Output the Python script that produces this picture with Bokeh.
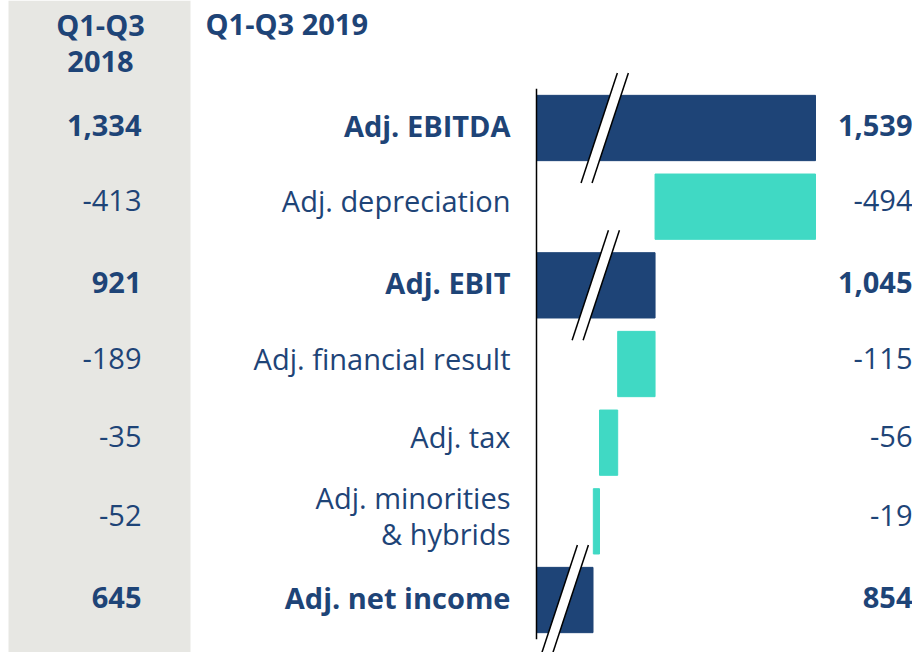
from bokeh.plotting import figure
from bokeh.models import Range1d, BoxAnnotation, ColumnDataSource
from bokeh.core.properties import value
from bokeh.embed import file_html
from bokeh.resources import INLINE

# ---- data ----
categories = ["Adj. EBITDA", "Adj. depreciation", "Adj. EBIT", "Adj. financial result",
              "Adj. tax", "Adj. minorities\n& hybrids", "Adj. net income"]
is_total = [True, False, True, False, False, False, True]
values_2019 = [1539, -494, 1045, -115, -56, -19, 854]
values_2018 = [1334, -413, 921, -189, -35, -52, 645]
labels_2019 = ["1,539", "-494", "1,045", "-115", "-56", "-19", "854"]
labels_2018 = ["1,334", "-413", "921", "-189", "-35", "-52", "645"]
header_2018 = "Q1-Q3\n2018"
header_2019 = "Q1-Q3 2019"
axis_break = 680  # value where the broken axis starts

# ---- styles ----
NAVY = "#1e4477"
TEAL = "#40d9c4"
GRAY = "#e7e7e3"
FONT = value("Open Sans")
FS = "29px"

W, H = 912, 652
S = 279 / (1539 - axis_break)  # px per unit
ROWH = 78.67

def px2x(px):
    return axis_break + (px - 536) / S

def py2y(py):
    return (py - 127.5) / ROWH

p = figure(width=W, height=H, output_backend="svg", toolbar_location=None,
           x_range=Range1d(px2x(0), px2x(W)), y_range=Range1d(py2y(H), py2y(0)),
           min_border=0, outline_line_color=None)
p.axis.visible = False
p.grid.visible = False
p.background_fill_color = "white"
p.border_fill_color = "white"

# gray column for 2018
p.add_layout(BoxAnnotation(left=px2x(8), right=px2x(190), bottom=py2y(655),
                           fill_color=GRAY, fill_alpha=1.0,
                           line_color=None, level="underlay"))

# waterfall bars
lefts, rights, colors, ys = [], [], [], []
running = None
for i, (v, tot) in enumerate(zip(values_2019, is_total)):
    if tot:
        lefts.append(axis_break); rights.append(v); colors.append(NAVY)
        running = v
    else:
        lefts.append(running + v); rights.append(running); colors.append(TEAL)
        running = running + v
    ys.append(i)
src = ColumnDataSource(dict(y=ys, left=lefts, right=rights, color=colors))
p.hbar(y="y", left="left", right="right", height=0.83, color="color", source=src)

# axis break marks on total bars
dx_per_py = -0.33
half_h = 55 / ROWH
half_w = 5.5 / S
for i, (v, tot) in enumerate(zip(values_2019, is_total)):
    if not tot:
        continue
    cx = axis_break + min(210, (v - axis_break) * 0.5)
    off = (55 * dx_per_py) / S
    xt, xb = cx - off, cx + off
    yt, yb = i - half_h, i + half_h
    p.patch([xt - half_w, xt + half_w, xb + half_w, xb - half_w],
            [yt, yt, yb, yb], fill_color="white", line_color=None)
    p.line([xt - half_w, xb - half_w], [yt, yb], line_color="black", line_width=1.5)
    p.line([xt + half_w, xb + half_w], [yt, yb], line_color="black", line_width=1.5)

# baseline
p.line([axis_break, axis_break], [-0.5, 6.5], line_color="black", line_width=1.5)

# texts
def add_text(xs, yv, texts, align, bold, lh=0.92):
    p.text(x=xs, y=yv, text=texts, text_align=align, text_baseline="middle",
           text_font=FONT, text_font_size=FS, text_color=NAVY,
           text_font_style="bold" if bold else "normal", text_line_height=lh)

for bold in (True, False):
    idx = [i for i in range(len(categories)) if is_total[i] == bold]
    shift = (3 if bold else 6) / ROWH
    yy = [i - shift for i in idx]
    add_text([px2x(510)] * len(idx), yy, [categories[i] for i in idx], "right", bold)
    add_text([px2x(141)] * len(idx), yy, [labels_2018[i] for i in idx], "right", bold)
    add_text([px2x(912)] * len(idx), yy, [labels_2019[i] for i in idx], "right", bold)

add_text([px2x(100)], [py2y(42)], [header_2018], "center", True)
add_text([px2x(205)], [py2y(23)], [header_2019], "left", True)

open("out.html", "w").write(file_html(p, INLINE))
